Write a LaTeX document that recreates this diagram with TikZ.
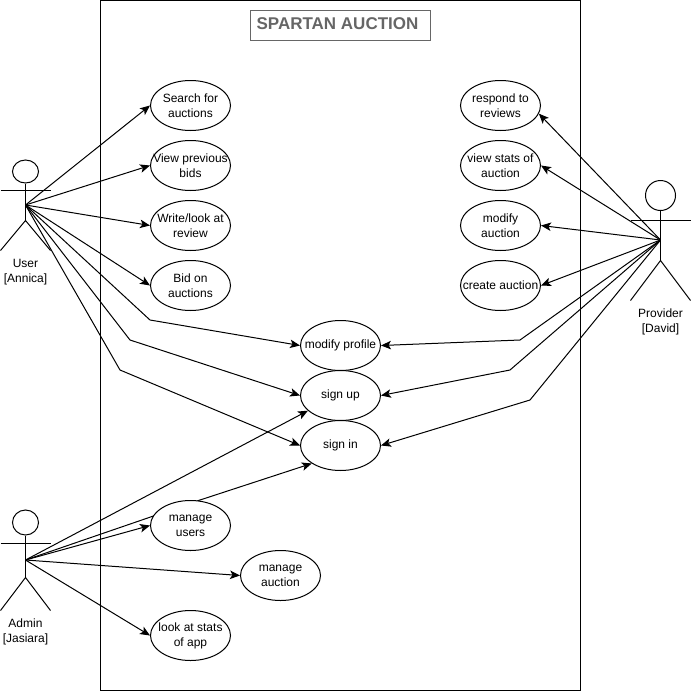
\documentclass[tikz,border=0pt]{standalone}
\usepackage{fontspec}
\setmainfont{Liberation Sans}
\usetikzlibrary{arrows.meta, shapes.geometric, backgrounds}

\begin{document}
\begin{tikzpicture}[x=1pt, y=-1pt, line width=1pt]
    \tikzset{CaseTextStyle/.style = {align=center, inner sep=0pt, font=\fontsize{12}{15}\selectfont}}
    \tikzset{FlatTextStyle/.style = {every label/.append style={yshift=-1pt}}}
    \tikzset{UseCaseStyle/.style = {ellipse, draw=black, fill=white, minimum width=80pt, minimum height=50pt, inner sep=0pt, label={[CaseTextStyle]center:#1}}}
    \tikzset{ActorLabelStyle/.style = {align=center, inner sep=0pt, font=\fontsize{12}{15}\selectfont}}
    \tikzset{HeadStyle/.style = {ellipse, draw=black, fill=white, inner sep=0pt}}
    \tikzset{LinkStyle/.style = {line width=1pt, -{Stealth[length=10pt, width=8.5pt, inset=2.5pt]}}}
    \useasboundingbox (0,0) rectangle (691,691);

    \node[draw=black, minimum width=480pt, minimum height=690pt, inner sep=0pt](Frame) at (340.5,345){};
    \node[draw=black!60, minimum width=180pt, minimum height=30pt, inner sep=0pt](Title) at (340.5,25.5){};
    \node[text=black!60, inner sep=0pt, font=\bfseries\fontsize{17}{20}\selectfont](TitleText) at (337.5,24){SPARTAN AUCTION};

    \node[UseCaseStyle={Search for\\auctions}](Search) at (190.5,105.5){};
    \node[UseCaseStyle={View previous\\bids}](Previous) at (190.5,165.5){};
    \node[UseCaseStyle={Write/look at\\review}](Review) at (190.5,225.5){};
    \node[UseCaseStyle={Bid on\\auctions}](Bid) at (190.5,285.5){};
    \node[UseCaseStyle={respond to\\reviews}](Respond) at (500.5,105.5){};
    \node[UseCaseStyle={view stats of\\auction}](Stats) at (500.5,165.5){};
    \node[UseCaseStyle={modify\\auction}](Modify) at (500.5,225.5){};
    \node[UseCaseStyle={create auction}](Create) at (500.5,285.5){};
    \node[FlatTextStyle, UseCaseStyle={modify profile}](Profile) at (340.5,345.5){};
    \node[FlatTextStyle, UseCaseStyle={sign up}](SignUp) at (340.5,395.5){};
    \node[FlatTextStyle, UseCaseStyle={sign in}](SignIn) at (340.5,445.5){};
    \node[UseCaseStyle={manage\\users}](Users) at (190.5,525.5){};
    \node[UseCaseStyle={manage\\auction}](Auction) at (280.5,575.5){};
    \node[UseCaseStyle={look at stats\\of app}](AppStats) at (190.5,635.5){};

    % actors
    \node[HeadStyle, minimum width=26pt, minimum height=23pt](UserHead) at (25.5,171.5){};
    \coordinate(User) at (25.5,205);
    \coordinate(UserHip) at (25.5,220.5);
    \draw(UserHead) -- (UserHip);
    \draw(0.5,190.5) -- (50.5,190.5);
    \draw(0.5,250.5) -- (UserHip) -- (50.5,250.5);
    \node[ActorLabelStyle](UserLabel) at (25.5,272){User\\{[Annica]}};

    \node[HeadStyle, minimum width=26pt, minimum height=25pt](AdminHead) at (25.5,522.5){};
    \coordinate(Admin) at (25.5,560);
    \coordinate(AdminHip) at (25.5,577.5);
    \draw(AdminHead) -- (AdminHip);
    \draw(0.5,543.5) -- (50.5,543.5);
    \draw(0.5,610.5) -- (AdminHip) -- (50.5,610.5);
    \node[ActorLabelStyle](AdminLabel) at (25.5,632){Admin\\{[Jasiara]}};

    \node[HeadStyle, minimum width=30pt, minimum height=30pt](ProviderHead) at (660.5,195.5){};
    \coordinate(Provider) at (660.5,240);
    \coordinate(ProviderHip) at (660.5,260.5);
    \draw(ProviderHead) -- (ProviderHip);
    \draw(630.5,220.5) -- (690.5,220.5);
    \draw(630.5,300.5) -- (ProviderHip) -- (690.5,300.5);
    \node[ActorLabelStyle](ProviderLabel) at (660.5,322){Provider\\{[David]}};

    % bends
    \coordinate(UserBendA) at (150,320);
    \coordinate(UserBendB) at (130,340);
    \coordinate(UserBendC) at (120,370);
    \coordinate(ProviderBendA) at (520,340);
    \coordinate(ProviderBendB) at (510,370);
    \coordinate(ProviderBendC) at (530,400);
    \coordinate(AdminBend) at (200,500);

    \begin{scope}[on background layer]
        \draw[LinkStyle](Admin) -- (AdminBend) -- (SignIn.212);
    \end{scope}

    \draw[LinkStyle](User) -- (Search.west);
    \draw[LinkStyle](User) -- (Previous.west);
    \draw[LinkStyle](User) -- (Review.west);
    \draw[LinkStyle](User) -- (Bid.west);
    \draw[LinkStyle](User) -- (UserBendA) -- (Profile.west);
    \draw[LinkStyle](User) -- (UserBendB) -- (SignUp.west);
    \draw[LinkStyle](User) -- (UserBendC) -- (SignIn.west);

    \draw[LinkStyle](Provider) -- (Respond.-12);
    \draw[LinkStyle](Provider) -- (Stats.east);
    \draw[LinkStyle](Provider) -- (Modify.east);
    \draw[LinkStyle](Provider) -- (Create.east);
    \draw[LinkStyle](Provider) -- (ProviderBendA) -- (Profile.east);
    \draw[LinkStyle](Provider) -- (ProviderBendB) -- (SignUp.east);
    \draw[LinkStyle](Provider) -- (ProviderBendC) -- (SignIn.east);

    \draw[LinkStyle](Admin) -- (SignUp.205);
    \draw[LinkStyle](Admin) -- (Users.west);
    \draw[LinkStyle](Admin) -- (Auction.west);
    \draw[LinkStyle](Admin) -- (AppStats.west);
\end{tikzpicture}
\end{document}
